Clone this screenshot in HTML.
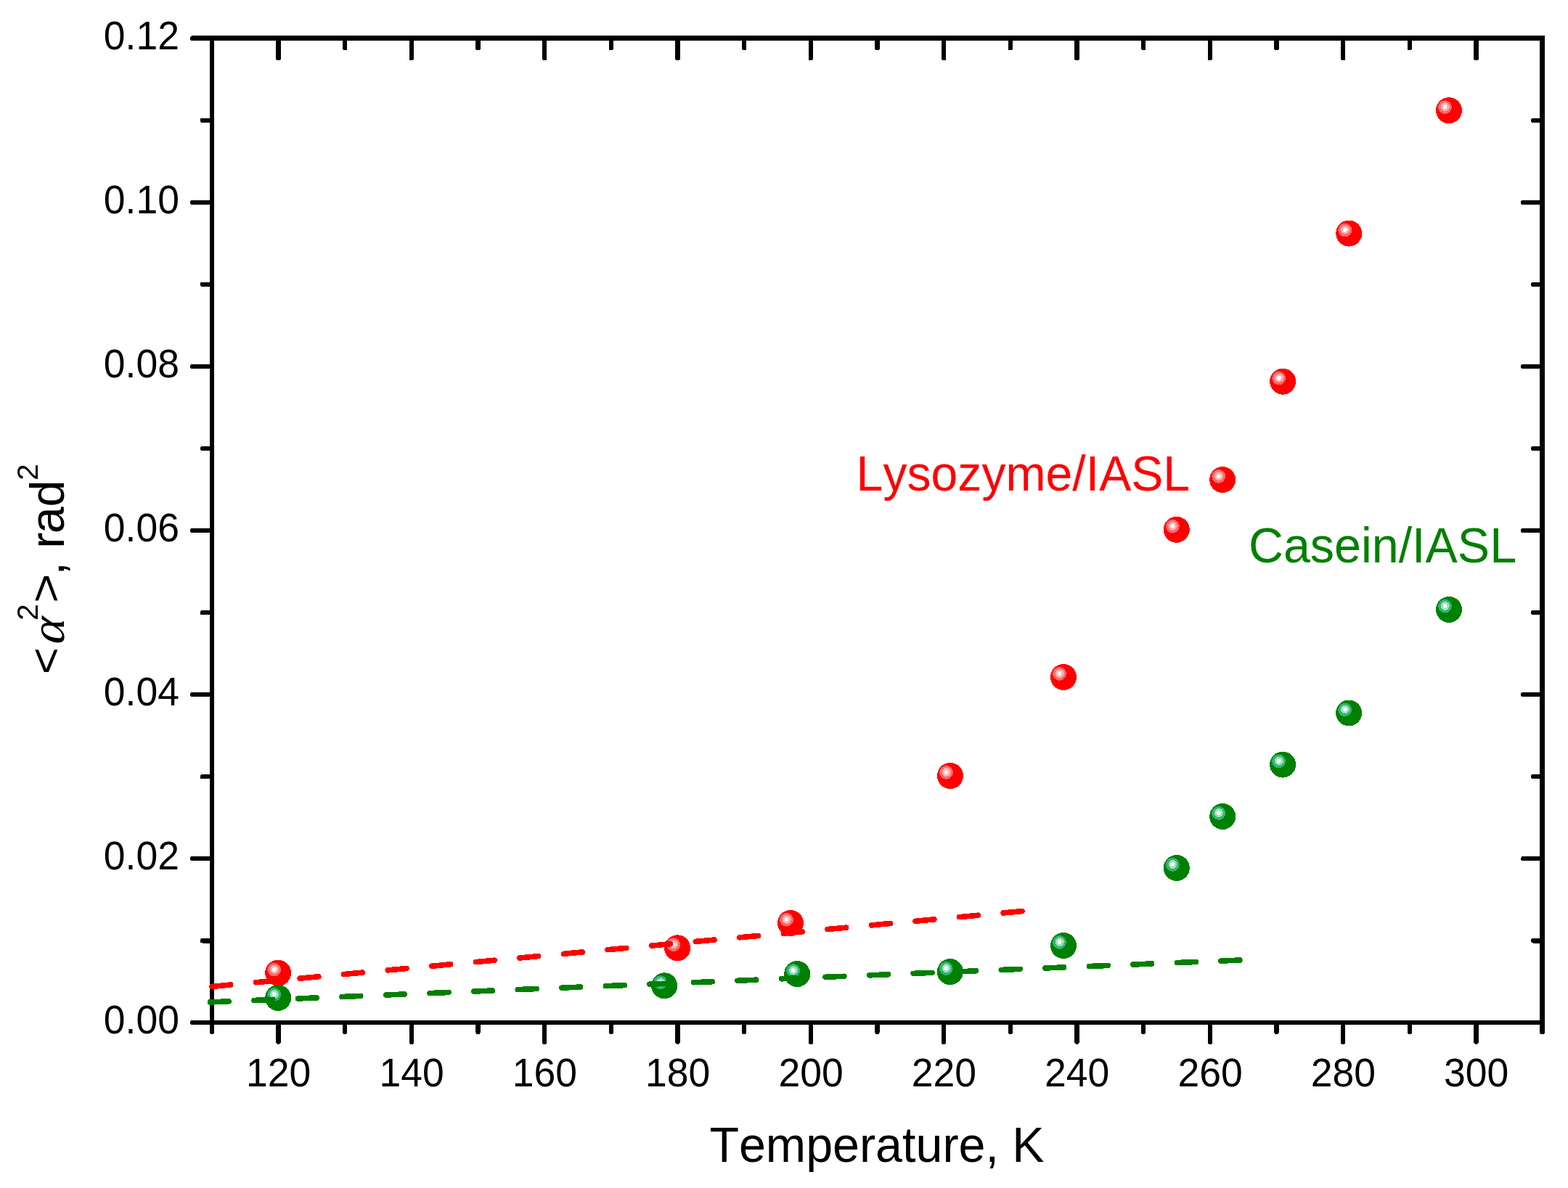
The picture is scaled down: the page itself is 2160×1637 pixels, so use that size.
<!DOCTYPE html>
<html lang="en"><head><meta charset="utf-8"><title>Temperature dependence of &lt;α²&gt;</title>
<style>
html,body{margin:0;padding:0;background:#fff;}
body{width:2160px;height:1637px;overflow:hidden;}
svg{display:block;}
text{font-family:"Liberation Sans",sans-serif;font-kerning:none;font-variant-ligatures:none;}
.tk{font-size:53.5px;fill:#000;}
.ti{font-size:66.4px;fill:#000;}
.an{font-size:66.4px;}
.sp{font-size:41px;fill:#000;}
.al{font-family:"Liberation Serif",serif;font-size:66.4px;fill:#000;}
.ax{stroke:#000;stroke-width:6.5;stroke-linecap:round;fill:none;shape-rendering:crispEdges;}
</style></head><body>
<svg width="2160" height="1637" viewBox="0 0 2160 1637">
<rect x="0" y="0" width="2160" height="1637" fill="#fff"/>
<g fill="#000" shape-rendering="crispEdges">
<rect x="289" y="49" width="6" height="1363"/>
<rect x="2121" y="49" width="7" height="1363"/>
<rect x="289" y="49" width="1839" height="7"/>
<rect x="289" y="1406" width="1839" height="6"/>
</g>
<g class="ax">
<path stroke-width="7" d="M292 52.5 H265.5"/>
<path stroke-width="6" d="M292 1409 H265"/>
<path stroke-width="6" d="M292 1409 V1422.2"/>
<path stroke-width="7" d="M2124.5 1409 V1421.7"/>
<path d="M383.50 1409.5 V1435.75 M383.50 53 V80.05 M475.16 1409.5 V1421.95 M475.16 53 V66.25 M566.83 1409.5 V1435.75 M566.83 53 V80.05 M658.50 1409.5 V1421.95 M658.50 53 V66.25 M750.16 1409.5 V1435.75 M750.16 53 V80.05 M841.83 1409.5 V1421.95 M841.83 53 V66.25 M933.50 1409.5 V1435.75 M933.50 53 V80.05 M1025.17 1409.5 V1421.95 M1025.17 53 V66.25 M1116.83 1409.5 V1435.75 M1116.83 53 V80.05 M1208.50 1409.5 V1421.95 M1208.50 53 V66.25 M1300.17 1409.5 V1435.75 M1300.17 53 V80.05 M1391.83 1409.5 V1421.95 M1391.83 53 V66.25 M1483.50 1409.5 V1435.75 M1483.50 53 V80.05 M1575.17 1409.5 V1421.95 M1575.17 53 V66.25 M1666.84 1409.5 V1435.75 M1666.84 53 V80.05 M1758.50 1409.5 V1421.95 M1758.50 53 V66.25 M1850.17 1409.5 V1435.75 M1850.17 53 V80.05 M1941.84 1409.5 V1421.95 M1941.84 53 V66.25 M2033.50 1409.5 V1435.75 M2033.50 53 V80.05 M291.33 1296.26 H278.88 M2124.67 1296.26 H2112.22 M291.33 1183.22 H265.08 M2124.67 1183.22 H2098.42 M291.33 1070.17 H278.88 M2124.67 1070.17 H2112.22 M291.33 957.13 H265.08 M2124.67 957.13 H2098.42 M291.33 844.09 H278.88 M2124.67 844.09 H2112.22 M291.33 731.05 H265.08 M2124.67 731.05 H2098.42 M291.33 618.01 H278.88 M2124.67 618.01 H2112.22 M291.33 504.97 H265.08 M2124.67 504.97 H2098.42 M291.33 391.93 H278.88 M2124.67 391.93 H2112.22 M291.33 278.88 H265.08 M2124.67 278.88 H2098.42 M291.33 165.84 H278.88 M2124.67 165.84 H2112.22"/>
</g>
<text class="tk" text-anchor="middle" transform="translate(383.70 1496.80) scale(1 1.045)">120</text>
<text class="tk" text-anchor="middle" transform="translate(567.03 1496.80) scale(1 1.045)">140</text>
<text class="tk" text-anchor="middle" transform="translate(750.37 1496.80) scale(1 1.045)">160</text>
<text class="tk" text-anchor="middle" transform="translate(933.70 1496.80) scale(1 1.045)">180</text>
<text class="tk" text-anchor="middle" transform="translate(1117.03 1496.80) scale(1 1.045)">200</text>
<text class="tk" text-anchor="middle" transform="translate(1300.37 1496.80) scale(1 1.045)">220</text>
<text class="tk" text-anchor="middle" transform="translate(1483.70 1496.80) scale(1 1.045)">240</text>
<text class="tk" text-anchor="middle" transform="translate(1667.04 1496.80) scale(1 1.045)">260</text>
<text class="tk" text-anchor="middle" transform="translate(1850.37 1496.80) scale(1 1.045)">280</text>
<text class="tk" text-anchor="middle" transform="translate(2033.70 1496.80) scale(1 1.045)">300</text>
<text class="tk" text-anchor="end" transform="translate(246.90 1424.30) scale(1 1.045)">0.00</text>
<text class="tk" text-anchor="end" transform="translate(246.90 1198.22) scale(1 1.045)">0.02</text>
<text class="tk" text-anchor="end" transform="translate(246.90 972.13) scale(1 1.045)">0.04</text>
<text class="tk" text-anchor="end" transform="translate(246.90 746.05) scale(1 1.045)">0.06</text>
<text class="tk" text-anchor="end" transform="translate(246.90 519.97) scale(1 1.045)">0.08</text>
<text class="tk" text-anchor="end" transform="translate(246.90 293.88) scale(1 1.045)">0.10</text>
<text class="tk" text-anchor="end" transform="translate(246.90 67.80) scale(1 1.045)">0.12</text>
<text class="ti" text-anchor="middle" transform="translate(1208.00 1601.00) scale(1 1.025)">Temperature, K</text>
<g transform="translate(88.2 926) rotate(-90)">
<text class="ti" transform="translate(-2.88 -3.8) scale(0.95 0.908)">&lt;</text>
<text class="al" transform="translate(35 0) skewX(-15) scale(1.045 1)">α</text>
<text class="sp" transform="translate(71.00 -36.30) scale(1 1)">2</text>
<text class="ti" transform="translate(94.97 -3.8) scale(1.04 0.908)">&gt;</text>
<text class="ti" x="133.3 151.75 170.2 190.7 227.5" y="0">, rad</text>
<text class="sp" transform="translate(264.00 -36.30) scale(1 1)">2</text>
</g>
<g shape-rendering="crispEdges">
<g transform="translate(383.2 1340.7)"><circle r="18" fill="#ff0000"/><circle cx="-5.5" cy="-4.6" r="9.4" fill="#ff6868"/><circle cx="-5.2" cy="-5" r="6" fill="#ffb0b0"/><circle cx="-5.5" cy="-4.9" r="3" fill="#fffafa"/></g>
<g transform="translate(933.2 1306.3)"><circle r="18" fill="#ff0000"/><circle cx="-5.5" cy="-4.6" r="9.4" fill="#ff6868"/><circle cx="-5.2" cy="-5" r="6" fill="#ffb0b0"/><circle cx="-5.5" cy="-4.9" r="3" fill="#fffafa"/></g>
<g transform="translate(1089 1271.9)"><circle r="18" fill="#ff0000"/><circle cx="-5.5" cy="-4.6" r="9.4" fill="#ff6868"/><circle cx="-5.2" cy="-5" r="6" fill="#ffb0b0"/><circle cx="-5.5" cy="-4.9" r="3" fill="#fffafa"/></g>
<g transform="translate(1309 1069)"><circle r="18" fill="#ff0000"/><circle cx="-5.5" cy="-4.6" r="9.4" fill="#ff6868"/><circle cx="-5.2" cy="-5" r="6" fill="#ffb0b0"/><circle cx="-5.5" cy="-4.9" r="3" fill="#fffafa"/></g>
<g transform="translate(1465 933)"><circle r="18" fill="#ff0000"/><circle cx="-5.5" cy="-4.6" r="9.4" fill="#ff6868"/><circle cx="-5.2" cy="-5" r="6" fill="#ffb0b0"/><circle cx="-5.5" cy="-4.9" r="3" fill="#fffafa"/></g>
<g transform="translate(1620.8 729.8)"><circle r="18" fill="#ff0000"/><circle cx="-5.5" cy="-4.6" r="9.4" fill="#ff6868"/><circle cx="-5.2" cy="-5" r="6" fill="#ffb0b0"/><circle cx="-5.5" cy="-4.9" r="3" fill="#fffafa"/></g>
<g transform="translate(1684.2 661)"><circle r="18" fill="#ff0000"/><circle cx="-5.5" cy="-4.6" r="9.4" fill="#ff6868"/><circle cx="-5.2" cy="-5" r="6" fill="#ffb0b0"/><circle cx="-5.5" cy="-4.9" r="3" fill="#fffafa"/></g>
<g transform="translate(1767.2 525.7)"><circle r="18" fill="#ff0000"/><circle cx="-5.5" cy="-4.6" r="9.4" fill="#ff6868"/><circle cx="-5.2" cy="-5" r="6" fill="#ffb0b0"/><circle cx="-5.5" cy="-4.9" r="3" fill="#fffafa"/></g>
<g transform="translate(1858.3 321.6)"><circle r="18" fill="#ff0000"/><circle cx="-5.5" cy="-4.6" r="9.4" fill="#ff6868"/><circle cx="-5.2" cy="-5" r="6" fill="#ffb0b0"/><circle cx="-5.5" cy="-4.9" r="3" fill="#fffafa"/></g>
<g transform="translate(1996 152.2)"><circle r="18" fill="#ff0000"/><circle cx="-5.5" cy="-4.6" r="9.4" fill="#ff6868"/><circle cx="-5.2" cy="-5" r="6" fill="#ffb0b0"/><circle cx="-5.5" cy="-4.9" r="3" fill="#fffafa"/></g>
<g transform="translate(383.2 1375)"><circle r="18" fill="#008000"/><circle cx="-5.5" cy="-4.6" r="9.4" fill="#2bb873"/><circle cx="-5.2" cy="-5" r="6" fill="#a3dcb7"/><circle cx="-5.5" cy="-4.9" r="3" fill="#f8fcf8"/></g>
<g transform="translate(915.2 1358.3)"><circle r="18" fill="#008000"/><circle cx="-5.5" cy="-4.6" r="9.4" fill="#2bb873"/><circle cx="-5.2" cy="-5" r="6" fill="#a3dcb7"/><circle cx="-5.5" cy="-4.9" r="3" fill="#f8fcf8"/></g>
<g transform="translate(1098.2 1342.1)"><circle r="18" fill="#008000"/><circle cx="-5.5" cy="-4.6" r="9.4" fill="#2bb873"/><circle cx="-5.2" cy="-5" r="6" fill="#a3dcb7"/><circle cx="-5.5" cy="-4.9" r="3" fill="#f8fcf8"/></g>
<g transform="translate(1308.8 1339.1)"><circle r="18" fill="#008000"/><circle cx="-5.5" cy="-4.6" r="9.4" fill="#2bb873"/><circle cx="-5.2" cy="-5" r="6" fill="#a3dcb7"/><circle cx="-5.5" cy="-4.9" r="3" fill="#f8fcf8"/></g>
<g transform="translate(1465 1303)"><circle r="18" fill="#008000"/><circle cx="-5.5" cy="-4.6" r="9.4" fill="#2bb873"/><circle cx="-5.2" cy="-5" r="6" fill="#a3dcb7"/><circle cx="-5.5" cy="-4.9" r="3" fill="#f8fcf8"/></g>
<g transform="translate(1620.8 1196)"><circle r="18" fill="#008000"/><circle cx="-5.5" cy="-4.6" r="9.4" fill="#2bb873"/><circle cx="-5.2" cy="-5" r="6" fill="#a3dcb7"/><circle cx="-5.5" cy="-4.9" r="3" fill="#f8fcf8"/></g>
<g transform="translate(1684.2 1125.1)"><circle r="18" fill="#008000"/><circle cx="-5.5" cy="-4.6" r="9.4" fill="#2bb873"/><circle cx="-5.2" cy="-5" r="6" fill="#a3dcb7"/><circle cx="-5.5" cy="-4.9" r="3" fill="#f8fcf8"/></g>
<g transform="translate(1767.1 1053.6)"><circle r="18" fill="#008000"/><circle cx="-5.5" cy="-4.6" r="9.4" fill="#2bb873"/><circle cx="-5.2" cy="-5" r="6" fill="#a3dcb7"/><circle cx="-5.5" cy="-4.9" r="3" fill="#f8fcf8"/></g>
<g transform="translate(1858.2 982.5)"><circle r="18" fill="#008000"/><circle cx="-5.5" cy="-4.6" r="9.4" fill="#2bb873"/><circle cx="-5.2" cy="-5" r="6" fill="#a3dcb7"/><circle cx="-5.5" cy="-4.9" r="3" fill="#f8fcf8"/></g>
<g transform="translate(1996 839.9)"><circle r="18" fill="#008000"/><circle cx="-5.5" cy="-4.6" r="9.4" fill="#2bb873"/><circle cx="-5.2" cy="-5" r="6" fill="#a3dcb7"/><circle cx="-5.5" cy="-4.9" r="3" fill="#f8fcf8"/></g>
</g>
<g fill="none" stroke-width="7.6" stroke-linecap="round" shape-rendering="crispEdges">
<path stroke="#ff0000" stroke-dasharray="25.8 35.03" d="M292 1359.4 L1408 1255.6"/>
<path stroke="#008000" stroke-dasharray="25.8 34.8" d="M289.4 1380.9 L1708.5 1323.0"/>
</g>
<text class="an" fill="#ff0000" transform="translate(1179.60 676.10) scale(0.9965 1.04)">Lysozyme/IASL</text>
<text class="an" fill="#008000" transform="translate(1720.00 775.00) scale(1 1.04)">Casein/IASL</text>
</svg>
</body></html>
